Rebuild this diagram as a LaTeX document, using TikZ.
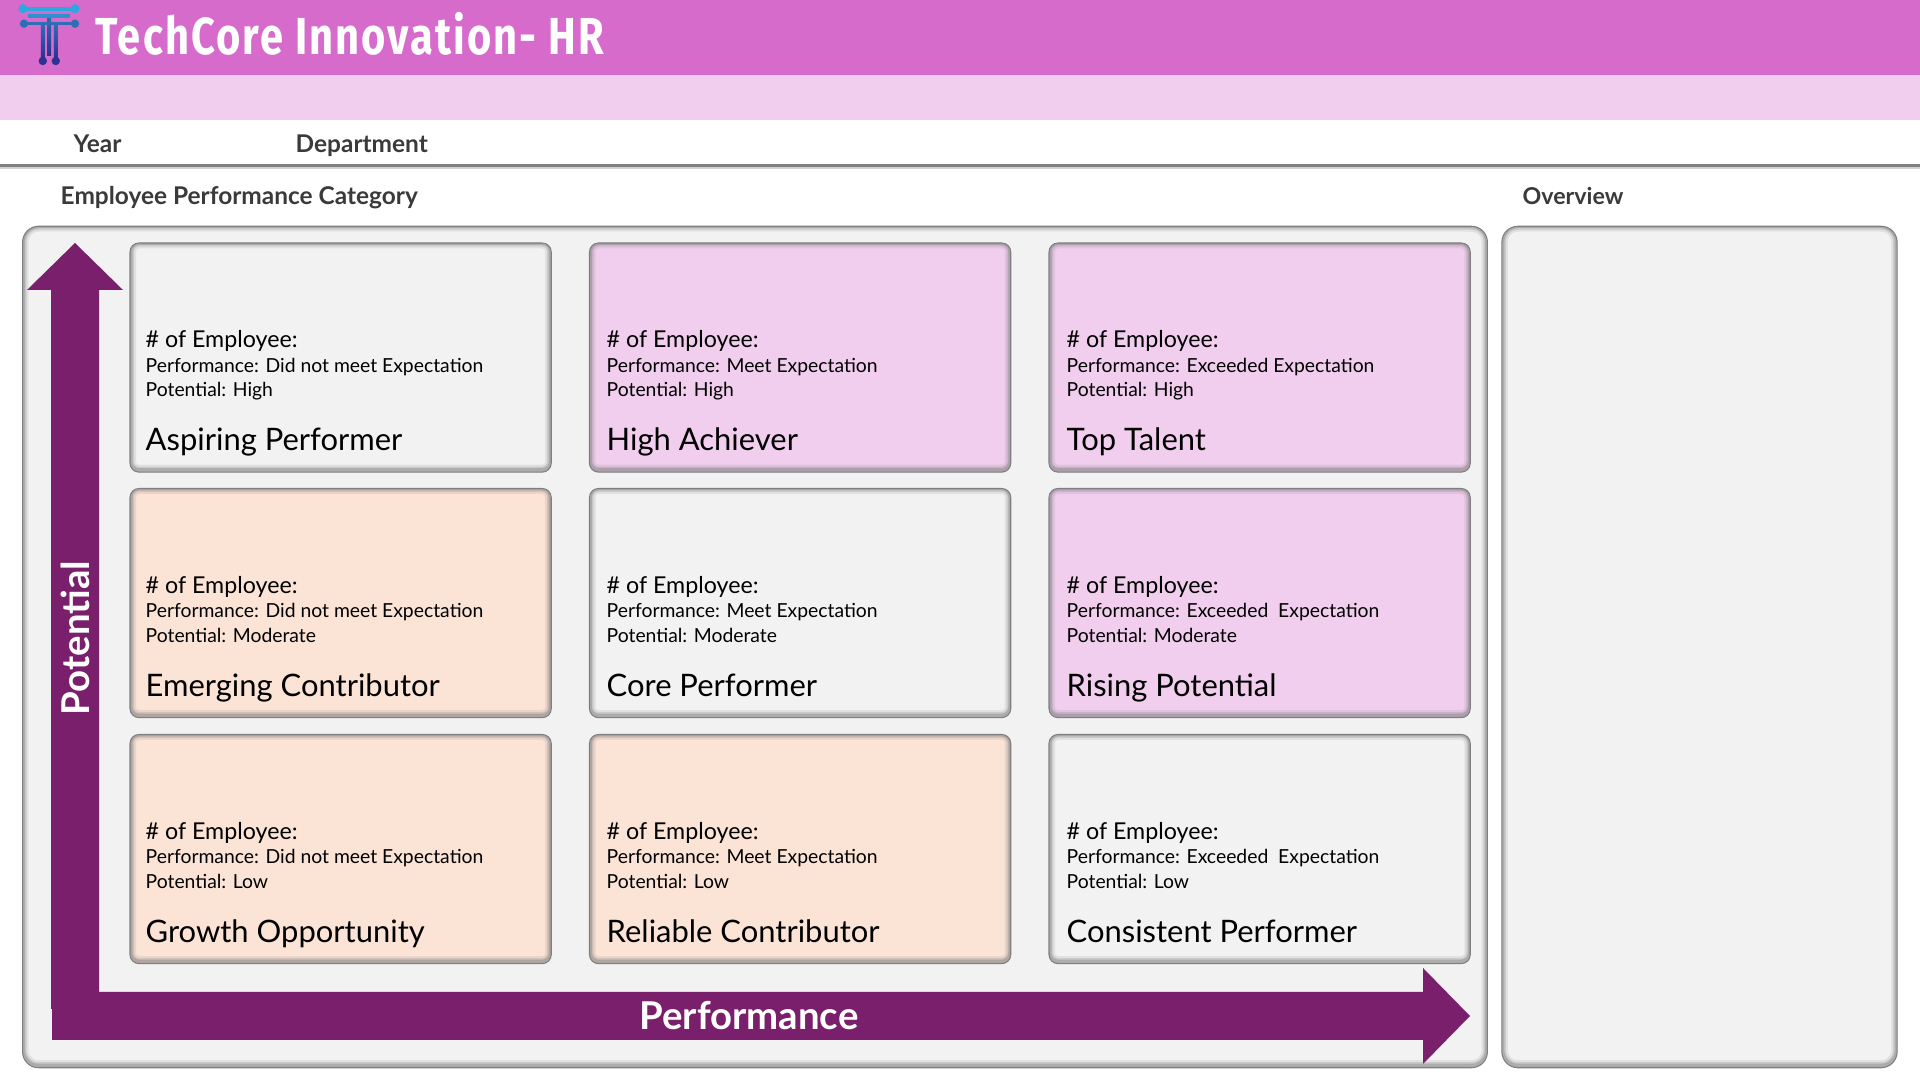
\documentclass[tikz,border=0pt]{standalone}
\usepackage{fontspec}
\setmainfont{Lato}
\newfontfamily\titlefont[FakeStretch=0.8,LetterSpace=4]{Fira Sans}
\usetikzlibrary{positioning}
\definecolor{HeaderPink}{HTML}{D66BCB}
\definecolor{BandPink}{HTML}{F1CEEE}
\definecolor{PanelGrey}{HTML}{F2F2F2}
\definecolor{CardPeach}{HTML}{FBE3D6}
\definecolor{ArrowPurple}{HTML}{7A1F6C}
\definecolor{LabelGrey}{HTML}{3A3A3A}
\definecolor{EdgeGrey}{HTML}{7F7F7F}
\definecolor{LogoCyan}{HTML}{29A9E0}
\definecolor{LogoBlue}{HTML}{2F6DB5}
\definecolor{LogoNavy}{HTML}{2E3192}
\tikzset{
    bevelbox/.style={rectangle, draw=EdgeGrey, line width=0.3pt, rounded corners=#1, inner sep=0pt, outer sep=0pt,
        path picture={
            \foreach \w/\o in {0.12/0.14,0.08/0.22,0.05/0.4}{
                \draw[EdgeGrey, opacity=\o, line width=\w cm, rounded corners=#1]
                    ([yshift=0.015cm]path picture bounding box.south west) rectangle ([yshift=0.005cm]path picture bounding box.north east);
            }
        }},
    card/.style={bevelbox=0.09cm, minimum width=4.21cm, minimum height=2.29cm},
    panel/.style={bevelbox=0.16cm, fill=PanelGrey},
    menulabel/.style={anchor=base west, inner sep=0pt, text=LabelGrey, font=\fontsize{6.95}{8}\selectfont\bfseries},
    countlabel/.style={anchor=base west, inner sep=0pt, font=\fontsize{6.6}{8}\selectfont},
    detaillabel/.style={anchor=base west, inner sep=0pt, font=\fontsize{5.5}{7}\selectfont},
    titlelabel/.style={anchor=base west, inner sep=0pt, font=\fontsize{8.8}{10}\selectfont},
    axislabel/.style={inner sep=0pt, text=white, font=\fontsize{10.9}{12}\selectfont\bfseries},
}

\begin{document}
\begin{tikzpicture}[x=0.01cm, y=-0.01cm]
    \useasboundingbox (0,0) rectangle (1920,1080);

    % Header bands
    \fill[HeaderPink] (0,0) rectangle (1920,75);
    \fill[BandPink] (0,75) rectangle (1920,120);
    \fill[EdgeGrey] (0,164.5) rectangle (1920,167);
    \fill[EdgeGrey!35] (0,167) rectangle (1920,169);
    \node[anchor=west, inner sep=0pt, text=white, font=\fontsize{14.8}{17}\selectfont\titlefont\bfseries] (title) at (95,34) {TechCore Innovation- HR};

    % Logo
    \shade[top color=LogoBlue, bottom color=LogoNavy] (40.8,24) rectangle (44.8,58);
    \shade[top color=LogoBlue, bottom color=LogoNavy] (53.8,24) rectangle (57.8,58);
    \shade[top color=LogoBlue, bottom color=LogoNavy] (47,16) rectangle (51,56);
    \fill[LogoCyan] (23,7) rectangle (75,11);
    \fill[LogoCyan] (23,8.7) circle (4.5) (75,8.7) circle (4.5);
    \fill[LogoCyan!60!LogoBlue] (28,14) rectangle (70,18);
    \fill[LogoBlue] (24,22) rectangle (75,25.5);
    \fill[LogoBlue] (24,23.7) circle (4.2) (75,23.7) circle (4.2);
    \fill[LogoNavy] (42.8,61) circle (4.2) (55.8,61) circle (4.2);

    % Slicer and section labels
    \node[menulabel] (year) at (73,153) {Year};
    \node[menulabel] (department) at (295,153) {Department};
    \node[menulabel] (categoryhead) at (60,204.5) {Employee Performance Category};
    \node[menulabel, font=\fontsize{6.6}{8}\selectfont\bfseries] (overviewhead) at (1522,204.5) {Overview};

    % Panels
    \node[panel, minimum width=14.64cm, minimum height=8.41cm] (gridpanel) at (755,647) {};
    \node[panel, minimum width=3.95cm, minimum height=8.41cm] (overviewpanel) at (1699.5,647) {};

    % Category cards
    \foreach \name/\cx/\tx/\cy/\tone/\perf/\pot/\head in {
        aspiring/130/145/243/PanelGrey/Did not meet Expectation/High/Aspiring Performer,
        achiever/589.5/606/243/BandPink/Meet Expectation/High/High Achiever,
        toptalent/1049/1066/243/BandPink/Exceeded Expectation/High/Top Talent,
        emerging/130/145/488.5/CardPeach/Did not meet Expectation/Moderate/Emerging Contributor,
        core/589.5/606/488.5/PanelGrey/Meet Expectation/Moderate/Core Performer,
        rising/1049/1066/488.5/BandPink/Exceeded\ \ Expectation/Moderate/Rising Potential,
        growth/130/145/734.5/CardPeach/Did not meet Expectation/Low/Growth Opportunity,
        reliable/589.5/606/734.5/CardPeach/Meet Expectation/Low/Reliable Contributor,
        consistent/1049/1066/734.5/PanelGrey/Exceeded\ \ Expectation/Low/Consistent Performer}{
        \node[card, fill=\tone, anchor=north west] (\name) at (\cx,\cy) {};
        \node[countlabel] (\name-count) at (\tx,\cy+105) {\# of Employee:};
        \node[detaillabel] (\name-perf) at (\tx,\cy+129.5) {Performance: \perf};
        \node[detaillabel] (\name-pot) at (\tx,\cy+154) {Potential: \pot};
        \node[titlelabel] (\name-head) at (\tx,\cy+208) {\head};
    }

    % Axis arrows
    \fill[ArrowPurple] (51,1009) -- (51,290) -- (27,290) -- (75,243) -- (123,290) -- (99,290) -- (99,992) -- (99,1009) -- cycle;
    \fill[ArrowPurple] (52,992) -- (1423,992) -- (1423,968) -- (1470,1016) -- (1423,1064) -- (1423,1040) -- (52,1040) -- cycle;
    \node[axislabel, rotate=90] (potentialaxis) at (75,638) {Potential};
    \node[axislabel] (performanceaxis) at (749,1016) {Performance};
\end{tikzpicture}
\end{document}
